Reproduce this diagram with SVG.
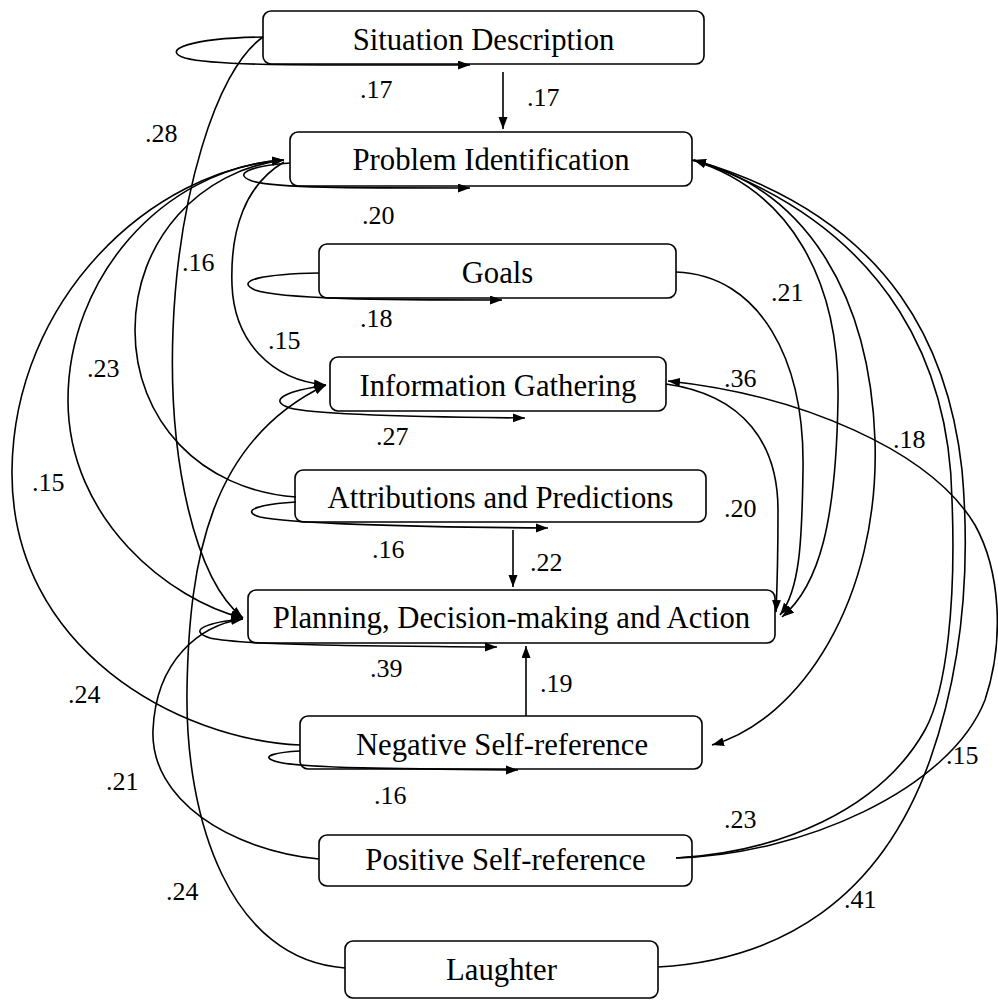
<svg xmlns="http://www.w3.org/2000/svg" width="998" height="1000" viewBox="0 0 998 1000">
  <style>
    .box { fill: #ffffff; stroke: #000000; stroke-width: 1.6; }
    .name { font-family: "Liberation Serif", "Times New Roman", serif; font-size: 30.7px; fill: #000000; text-anchor: middle; }
    .edge { fill: none; stroke: #000000; stroke-width: 1.6; }
    .arrow { marker-end: url(#head); }
    .w { font-family: "Liberation Serif", "Times New Roman", serif; font-size: 26px; fill: #000000; }
  </style>
  <defs>
    <marker id="head" markerUnits="userSpaceOnUse" markerWidth="14" markerHeight="10" refX="12" refY="4.5" orient="auto">
      <path d="M0,0 L12,4.5 L0,9 z" fill="#000000"/>
    </marker>
  </defs>

  <rect width="998" height="1000" fill="#ffffff"/>

  <!-- nodes -->
  <g id="situation-description">
    <rect class="box" x="263" y="11" width="441" height="53" rx="8"/>
    <text class="name" x="483.5" y="50">Situation Description</text>
  </g>
  <g id="problem-identification">
    <rect class="box" x="290" y="132" width="402" height="54" rx="8"/>
    <text class="name" x="491" y="170">Problem Identification</text>
  </g>
  <g id="goals">
    <rect class="box" x="319" y="244" width="357" height="54" rx="8"/>
    <text class="name" x="497.5" y="283">Goals</text>
  </g>
  <g id="information-gathering">
    <rect class="box" x="330" y="357" width="336" height="54" rx="8"/>
    <text class="name" x="498" y="396">Information Gathering</text>
  </g>
  <g id="attributions-predictions">
    <rect class="box" x="295" y="470" width="411" height="52" rx="8"/>
    <text class="name" x="500.5" y="508">Attributions and Predictions</text>
  </g>
  <g id="planning-decision-action">
    <rect class="box" x="248" y="590" width="527" height="53" rx="8"/>
    <text class="name" x="511.5" y="628">Planning, Decision-making and Action</text>
  </g>
  <g id="negative-self-reference">
    <rect class="box" x="300" y="716" width="402" height="53" rx="8"/>
    <text class="name" x="502" y="755">Negative Self-reference</text>
  </g>
  <g id="positive-self-reference">
    <rect class="box" x="319" y="835" width="373" height="51" rx="8"/>
    <text class="name" x="505.5" y="870">Positive Self-reference</text>
  </g>
  <g id="laughter">
    <rect class="box" x="345" y="941" width="313" height="57" rx="8"/>
    <text class="name" x="501.5" y="980">Laughter</text>
  </g>

  <!-- connectors -->
  <g id="connectors">
    <!-- self transitions -->
    <path class="edge arrow" d="M263,37 C190,38 160,50 185,58 C215,66 300,65 470,65"/>
    <path class="edge arrow" d="M290,163 C250,166 232,174 252,181 C275,188 350,188 470,188"/>
    <path class="edge arrow" d="M319,273 C265,274 233,280 255,290 C280,299 380,300 502,300"/>
    <path class="edge arrow" d="M324,386 C290,390 265,400 290,408 C315,415 420,417 525,418"/>
    <path class="edge arrow" d="M296,502 C262,504 238,510 260,517 C285,523 400,527 548,528"/>
    <path class="edge arrow" d="M243,619 C210,622 185,630 210,638 C240,645 360,646 497,647"/>
    <path class="edge arrow" d="M300,751 C280,752 255,756 278,762 C300,768 400,769 518,770"/>

    <!-- straight transitions -->
    <path class="edge arrow" d="M503,72 L503,129"/>
    <path class="edge arrow" d="M513,530 L513,587"/>
    <path class="edge arrow" d="M526,716 L526,646"/>

    <!-- left side -->
    <path class="edge arrow" d="M263,37 C215,70 178,200 173,330 C168,460 195,580 243,618"/>
    <path class="edge arrow" d="M282,160 C160,170 68,280 68,400 C68,520 170,600 243,618"/>
    <path class="edge arrow" d="M300,745 C180,740 10,650 12,470 C14,300 150,170 284,160"/>
    <path class="edge arrow" d="M296,497 C200,490 135,420 135,330 C135,240 200,170 284,160"/>
    <path class="edge arrow" d="M284,162 C245,185 230,230 232,285 C234,340 270,380 326,385"/>
    <path class="edge arrow" d="M345,968 C230,960 185,820 187,690 C189,560 210,440 326,385"/>
    <path class="edge arrow" d="M319,859 C230,850 150,800 153,730 C156,660 200,625 243,619"/>

    <!-- right side -->
    <path class="edge arrow" d="M676,272 C760,275 805,360 803,470 C802,540 800,590 780,615"/>
    <path class="edge arrow" d="M666,384 C745,395 778,445 778,510 C778,560 777,590 776,612"/>
    <path class="edge arrow" d="M692,160 C790,190 840,280 838,400 C836,520 820,585 782,617"/>
    <path class="edge arrow" d="M692,160 C810,190 870,300 875,440 C880,600 800,720 712,745"/>
    <path class="edge arrow" d="M676,858 C780,852 880,810 925,730 C947,690 956,600 952,500 C950,380 900,230 694,160"/>
    <path class="edge arrow" d="M658,967 C780,960 880,900 930,760 C965,660 970,560 962,470 C950,360 900,220 694,160"/>
    <path class="edge arrow" d="M676,858 C800,855 950,790 985,700 C1005,640 1000,570 975,525 C930,450 800,395 668,381"/>
  </g>

  <!-- weights -->
  <g id="weights">
    <text class="w" x="360" y="98">.17</text>
    <text class="w" x="527" y="106">.17</text>
    <text class="w" x="362" y="224">.20</text>
    <text class="w" x="360" y="327">.18</text>
    <text class="w" x="376" y="445">.27</text>
    <text class="w" x="372" y="558">.16</text>
    <text class="w" x="530" y="571">.22</text>
    <text class="w" x="370" y="677">.39</text>
    <text class="w" x="540" y="692">.19</text>
    <text class="w" x="374" y="804">.16</text>

    <text class="w" x="145" y="142">.28</text>
    <text class="w" x="182" y="271">.16</text>
    <text class="w" x="268" y="349">.15</text>
    <text class="w" x="87" y="377">.23</text>
    <text class="w" x="32" y="491">.15</text>
    <text class="w" x="68" y="703">.24</text>
    <text class="w" x="106" y="790">.21</text>
    <text class="w" x="166" y="900">.24</text>

    <text class="w" x="771" y="301">.21</text>
    <text class="w" x="724" y="387">.36</text>
    <text class="w" x="893" y="448">.18</text>
    <text class="w" x="724" y="517">.20</text>
    <text class="w" x="946" y="764">.15</text>
    <text class="w" x="724" y="828">.23</text>
    <text class="w" x="844" y="908">.41</text>
  </g>
</svg>
